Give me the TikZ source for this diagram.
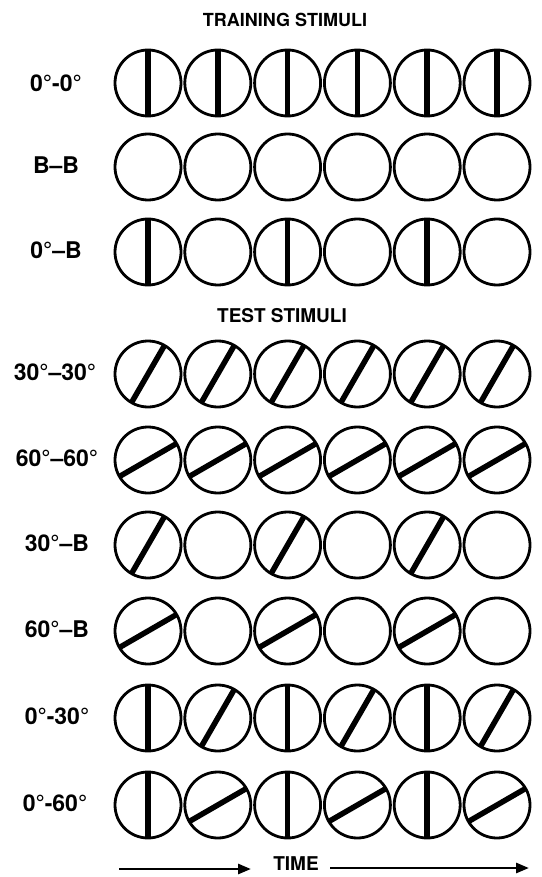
\documentclass[tikz,border=0pt]{standalone}
\usepackage{fontspec}
\setmainfont{TeX Gyre Heros}
\usetikzlibrary{arrows.meta}

\begin{document}
\begin{tikzpicture}[x=1pt,y=-1pt,
disc/.style={draw,circle,line width=2.8pt,minimum size=66pt,inner sep=0pt,outer sep=0pt},
bar/.style={line width=5.5pt},
lbl/.style={font=\fontsize{23}{26}\selectfont\bfseries},
hdr/.style={font=\fontsize{18}{22}\selectfont\bfseries,inner sep=1pt},
tarrow/.style={line width=2.8pt,-{Triangle[length=13pt,width=10pt]}}]

\useasboundingbox (0,0) rectangle (541,877);

% headings
\node[hdr] (train) at (285,20) {TRAINING STIMULI};
\node[hdr,font=\fontsize{19}{22}\selectfont\bfseries] (test) at (282,316) {TEST STIMULI};
\node[hdr,font=\fontsize{19}{22}\selectfont\bfseries] (time) at (296,864) {TIME};

% row labels
\node[lbl] (l00) at (56,83) {0°-0°};
\node[lbl] (lbb) at (56,165) {B–B};
\node[lbl] (l0b) at (56,250) {0°–B};
\node[lbl] (l3030) at (55,372) {30°–30°};
\node[lbl] (l6060) at (57,458) {60°–60°};
\node[lbl] (l30b) at (57,543) {30°–B};
\node[lbl] (l60b) at (57,629) {60°–B};
\node[lbl] (l030) at (57,716) {0°-30°};
\node[lbl] (l060) at (55,803) {0°-60°};

% stimulus discs, 90 = vertical bar, 0 = blank
\foreach \r/\y/\angles in {a/83/{90,90,90,90,90,90},b/167/{0,0,0,0,0,0},c/252/{90,0,90,0,90,0},
  d/374/{60,60,60,60,60,60},e/460/{30,30,30,30,30,30},f/545/{60,0,60,0,60,0},
  g/631/{30,0,30,0,30,0},h/718/{90,60,90,60,90,60},k/805/{90,30,90,30,90,30}}{
  \foreach \a [count=\i, evaluate=\a as \b using int(\a+180)] in \angles {
    \node[disc] (\r\i) at ({148+69.8*(\i-1)},\y) {};
    \ifnum\a>0 \draw[bar] (\r\i.\a) -- (\r\i.\b); \fi
  }
}

% time axis
\coordinate (t1) at (119,869);
\coordinate (t2) at (251,869);
\coordinate (t3) at (330,868);
\coordinate (t4) at (529,868);
\draw[tarrow] (t1) -- (t2);
\draw[tarrow] (t3) -- (t4);

\end{tikzpicture}
\end{document}
